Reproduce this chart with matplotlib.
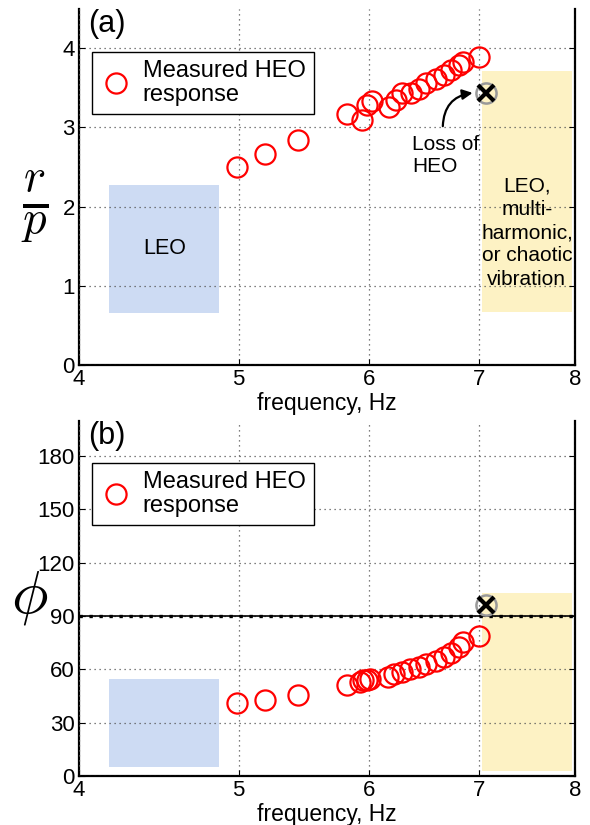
import matplotlib
matplotlib.use("Agg")
import matplotlib.pyplot as plt
from matplotlib.patches import Rectangle
from matplotlib.ticker import FixedLocator, FixedFormatter, NullLocator

plt.rcParams['font.family'] = ['Liberation Sans', 'DejaVu Sans']
plt.rcParams['mathtext.fontset'] = 'cm'

# ---- data ----
freq_a = [4.99, 5.19, 5.43, 5.82, 5.94, 5.98, 6.02, 6.17, 6.23, 6.28, 6.36, 6.43,
          6.50, 6.59, 6.66, 6.73, 6.80, 6.84, 7.00]
rp_a = [2.50, 2.66, 2.84, 3.17, 3.09, 3.28, 3.33, 3.26, 3.35, 3.43, 3.44, 3.49,
        3.56, 3.61, 3.66, 3.72, 3.79, 3.83, 3.89]
freq_b = [4.99, 5.19, 5.43, 5.82, 5.92, 5.95, 5.98, 6.01, 6.16, 6.21, 6.28, 6.35,
          6.43, 6.50, 6.59, 6.66, 6.73, 6.80, 6.84, 7.00]
phi_b = [40.9, 42.8, 45.6, 51.2, 53.1, 54.0, 54.0, 54.4, 55.5, 57.4, 58.7, 60.0,
         61.5, 63.0, 64.9, 67.1, 69.0, 72.8, 75.2, 78.8]
loss_freq = 7.06
loss_rp = 3.43
loss_phi = 96.2

xticks = [4, 5, 6, 7, 8]
xticklabels = ['4', '5', '6', '7', '8']
yticks_a = [0, 1, 2, 3, 4]
yticks_b = [0, 30, 60, 90, 120, 150, 180]

# regions (freq_lo, freq_hi, y_lo, y_hi)
leo_a = (4.172, 4.867, 0.66, 2.27)
chaos_a = (7.025, 7.967, 0.67, 3.71)
leo_b = (4.172, 4.867, 5.0, 54.6)
chaos_b = (7.025, 7.967, 3.0, 103.0)

blue = '#cddbf3'
yellow = '#fdf2c4'

fig = plt.figure(figsize=(5.9, 8.25), dpi=100)
axA = fig.add_axes([0.1339, 0.5576, 0.8407, 0.432])
axB = fig.add_axes([0.1339, 0.0594, 0.8407, 0.4307])

def style(ax, yticks, ylim):
    ax.set_xscale('log')
    ax.set_xlim(4, 8)
    ax.set_ylim(*ylim)
    ax.xaxis.set_major_locator(FixedLocator(xticks))
    ax.xaxis.set_major_formatter(FixedFormatter(xticklabels))
    ax.xaxis.set_minor_locator(NullLocator())
    ax.set_yticks(yticks)
    ax.tick_params(direction='in', labelsize=16, length=4, width=0.8,
                   right=True, top=False, pad=3)
    ax.spines['top'].set_visible(False)
    for s in ['left', 'bottom', 'right']:
        ax.spines[s].set_linewidth(1.6)
    ax.grid(True, linestyle=(0, (1, 3)), color='#555555', linewidth=0.9)
    ax.set_axisbelow(False)
    ax.set_xlabel('frequency, Hz', fontsize=16.5, labelpad=1.5)

def rect(ax, r, color):
    ax.add_patch(Rectangle((r[0], r[2]), r[1] - r[0], r[3] - r[2],
                           facecolor=color, edgecolor='none', zorder=0.5))

def legend(ax, top):
    leg = ax.legend(loc='upper left', bbox_to_anchor=(0.026, top), fontsize=17,
                    frameon=True, fancybox=False, edgecolor='black',
                    framealpha=1, borderpad=0.35, handletextpad=0.5,
                    handlelength=1.3, borderaxespad=0, labelspacing=0.3)
    leg.get_frame().set_linewidth(1.0)
    for t in leg.get_texts():
        t.set_linespacing(1.1)

# ---- (a) ----
style(axA, yticks_a, (0, 4.5))
rect(axA, leo_a, blue)
rect(axA, chaos_a, yellow)
axA.plot(freq_a, rp_a, 'o', mfc='none', mec='red', ms=14.5, mew=1.6,
         zorder=3, label='Measured HEO\nresponse')
axA.plot([loss_freq], [loss_rp], 'o', mfc='none', mec='#999999', ms=14.5,
         mew=1.8, zorder=3)
axA.plot([loss_freq], [loss_rp], 'x', color='k', ms=12, mew=3, zorder=4)
axA.text(0.018, 1.0, '(a)', transform=axA.transAxes, fontsize=22,
         va='top', ha='left')
axA.text(4.506, 1.47, 'LEO', fontsize=15.5, ha='center', va='center')
axA.text(7.48, 1.67, 'LEO,\nmulti-\nharmonic,\nor chaotic\nvibration',
         fontsize=15, ha='center', va='center', linespacing=1.28)
axA.annotate('', xy=(6.96, 3.44), xytext=(6.65, 2.98),
             arrowprops=dict(arrowstyle='-|>', color='k', lw=1.6,
                             connectionstyle='arc3,rad=-0.45',
                             mutation_scale=15))
axA.text(6.37, 2.91, 'Loss of\nHEO', fontsize=15, ha='left', va='top',
         linespacing=1.25)
axA.set_ylabel(r'$\frac{r}{p}$', fontsize=48, rotation=0, va='center',
               ha='center')
axA.yaxis.set_label_coords(-0.089, 0.445)
legend(axA, 0.878)

# ---- (b) ----
style(axB, yticks_b, (0, 200))
rect(axB, leo_b, blue)
rect(axB, chaos_b, yellow)
axB.axhline(90, color='k', lw=1.2, zorder=2.6)
axB.axhline(90, color='k', lw=2.4, linestyle=(0, (1, 2)), zorder=2.6)
axB.plot(freq_b, phi_b, 'o', mfc='none', mec='red', ms=14.5, mew=1.6,
         zorder=3, label='Measured HEO\nresponse')
axB.plot([loss_freq], [loss_phi], 'o', mfc='none', mec='#999999', ms=14.5,
         mew=1.8, zorder=3)
axB.plot([loss_freq], [loss_phi], 'x', color='k', ms=12, mew=3, zorder=4)
axB.text(0.018, 1.0, '(b)', transform=axB.transAxes, fontsize=22,
         va='top', ha='left')
axB.set_ylabel(r'$\phi$', fontsize=44, rotation=0, va='center', ha='center')
axB.yaxis.set_label_coords(-0.099, 0.50)
legend(axB, 0.881)

fig.savefig('out.png', dpi=100)
